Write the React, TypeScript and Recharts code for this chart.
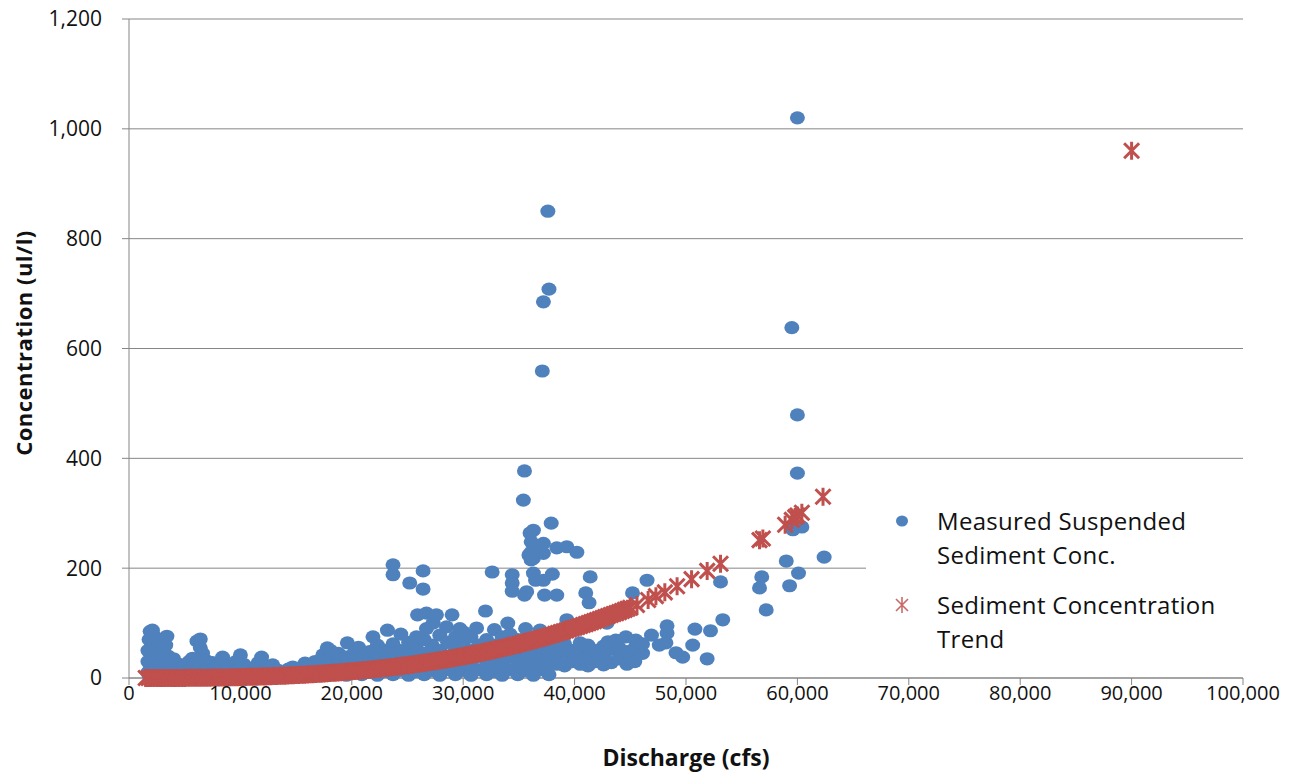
import { ScatterChart, Scatter, XAxis, YAxis, CartesianGrid, Label } from 'recharts';

const xTicks = [0, 10000, 20000, 30000, 40000, 50000, 60000, 70000, 80000, 90000, 100000];
const yTicks = [0, 200, 400, 600, 800, 1000, 1200];

// measured suspended sediment [discharge cfs, concentration ul/l]
const lowFlow: [number, number][] = [
  [1700, 10], [1700, 30], [1700, 50], [1800, 70], [1800, 5], [1900, 15], [1900, 85], [2000, 25], [2000, 40],
  [2100, 55], [2100, 87], [2200, 78], [2200, 65], [2300, 15], [2300, 35], [2300, 48], [2400, 32], [2500, 20],
  [2500, 45], [2600, 10], [2600, 70], [2700, 60], [2800, 25], [2800, 45], [2900, 8], [3000, 30], [3000, 55],
  [3100, 42], [3200, 18], [3300, 60], [3400, 76], [3500, 40], [3500, 8], [3600, 12], [3800, 28], [4000, 35],
  [4100, 12], [4200, 20], [4400, 6], [4500, 25], [4700, 10], [4800, 15], [5000, 22], [5200, 8], [5400, 30],
  [5500, 14], [5700, 36], [5900, 10], [6000, 28], [6100, 67], [6300, 18], [6400, 71], [6400, 55], [6600, 45],
  [6700, 12], [6900, 32], [7100, 8], [7200, 22], [7400, 14], [7500, 28], [7700, 8], [7800, 15], [8100, 25],
  [8200, 12], [8400, 38], [8600, 10], [8800, 22], [9000, 14], [9200, 18], [9400, 8], [9600, 30], [9800, 14],
  [10000, 42], [10200, 10], [10300, 25], [10600, 8], [10700, 18], [11000, 12], [11200, 14], [11400, 8], [11600, 28],
  [11800, 14], [11900, 38], [12200, 10], [12400, 22], [12700, 8], [12900, 24], [13200, 10], [13400, 14], [13700, 6],
  [13900, 10], [14200, 8], [14300, 16], [14600, 10], [14700, 20], [15000, 12], [15200, 12], [15500, 8], [15800, 27],
];

const midFlow: [number, number][] = [
  [16000, 10], [16000, 22], [16700, 5], [16700, 15], [16700, 30], [17400, 12], [17400, 25], [17400, 42],
  [17800, 55], [18100, 6], [18100, 20], [18100, 35], [18100, 50], [18800, 14], [18800, 28], [18800, 45],
  [19500, 5], [19500, 22], [19500, 38], [19600, 64], [20200, 12], [20200, 28], [20200, 45], [20600, 56],
  [20900, 6], [20900, 20], [20900, 38], [21600, 10], [21600, 30], [21600, 48], [21900, 75], [22300, 5],
  [22300, 22], [22300, 40], [22300, 60], [23000, 12], [23000, 32], [23000, 50], [23200, 87], [23700, 206],
  [23700, 188], [23700, 6], [23700, 22], [23700, 40], [23700, 62], [24400, 14], [24400, 30], [24400, 50],
  [24400, 80], [25100, 5], [25100, 22], [25100, 42], [25100, 65], [25200, 173], [25800, 12], [25800, 35],
  [25800, 55], [25800, 75], [25900, 115], [26400, 195], [26400, 162], [26500, 6], [26500, 25], [26500, 45],
  [26500, 70], [26700, 118], [26700, 90], [27200, 14], [27200, 38], [27200, 60], [27300, 100], [27600, 115],
  [27900, 5], [27900, 28], [27900, 50], [27900, 78], [28500, 93], [28600, 15], [28600, 40], [28600, 65],
  [29000, 115], [29300, 6], [29300, 25], [29300, 55], [29300, 75], [29700, 90],
];

const highFlow: [number, number][] = [
  [30000, 14], [30000, 35], [30000, 65], [30000, 84], [30700, 5], [30700, 25], [30700, 50], [30700, 75],
  [31200, 91], [31400, 15], [31400, 40], [31400, 60], [32000, 122], [32100, 6], [32100, 28], [32100, 55],
  [32100, 70], [32600, 193], [32800, 12], [32800, 35], [32800, 60], [32800, 88], [33500, 5], [33500, 25],
  [33500, 45], [33500, 75], [34000, 100], [34200, 15], [34200, 38], [34200, 58], [34200, 80], [34400, 188],
  [34400, 173], [34400, 158], [34900, 6], [34900, 28], [34900, 50], [34900, 70], [35400, 324], [35500, 377],
  [35500, 151], [35600, 14], [35600, 35], [35600, 55], [35600, 90], [35700, 157], [35900, 224], [36000, 264],
  [36100, 248], [36100, 229], [36100, 215], [36300, 269], [36300, 218], [36300, 191], [36300, 5], [36300, 25],
  [36300, 45], [36300, 65], [36500, 178], [36900, 87], [36900, 233], [37000, 15], [37000, 35], [37000, 55],
  [37100, 559], [37200, 685], [37200, 178], [37200, 245], [37200, 227], [37300, 151], [37600, 850], [37700, 708],
  [37700, 6], [37700, 28], [37700, 48], [37700, 65], [37900, 282], [38000, 189], [38400, 237], [38400, 151],
  [38400, 25], [38400, 40], [38400, 58], [39100, 22], [39100, 45], [39100, 62], [39300, 239], [39300, 106],
  [39300, 91], [39800, 30], [39800, 50], [40200, 229], [40500, 25], [40500, 45], [40500, 64], [41000, 155],
  [41200, 22], [41200, 38], [41200, 60], [41300, 137], [41400, 184], [41900, 30], [41900, 50], [42600, 24],
  [42600, 40], [42600, 58], [42900, 100], [43300, 28], [43300, 52], [43000, 66], [43700, 69], [44000, 35],
  [44000, 55], [44600, 75], [44700, 25], [44700, 48], [45000, 36], [45200, 155], [45400, 30], [45400, 55],
  [45500, 69], [46100, 45], [46100, 62], [46500, 178], [46900, 78],
];

const peakFlow: [number, number][] = [
  [47600, 60], [48300, 95], [48300, 82], [48200, 64], [49100, 46], [49700, 38], [50600, 60], [50800, 89],
  [51900, 35], [52200, 86], [53100, 175], [53300, 106], [56600, 164], [56800, 184], [57200, 124], [59000, 213],
  [59300, 168], [59500, 638], [59600, 270], [60000, 1020], [60000, 479], [60000, 373], [60100, 191], [60400, 275],
  [62400, 220],
];

// sediment concentration trend [discharge cfs, concentration ul/l]
const trendPoints: [number, number][] = [
  [1500, 0], [2000, 0], [2500, 0], [3000, 0], [3500, 0], [4000, 0.1], [4500, 0.1], [5000, 0.2],
  [5500, 0.3], [6000, 0.4], [6500, 0.5], [7000, 0.6], [7500, 0.7], [8000, 0.9], [8500, 1.0], [9000, 1.2],
  [9500, 1.4], [10000, 1.6], [10500, 1.9], [11000, 2.2], [11500, 2.5], [12000, 2.8], [12500, 3.1], [13000, 3.5],
  [13500, 3.9], [14000, 4.3], [14500, 4.8], [15000, 5.3], [15500, 5.8], [16000, 6.4], [16500, 7.0], [17000, 7.6],
  [17500, 8.3], [18000, 9.0], [18500, 9.7], [19000, 10.5], [19500, 11.3], [20000, 12.2], [20500, 13.1], [21000, 14.1],
  [21500, 15.1], [22000, 16.1], [22500, 17.2], [23000, 18.4], [23500, 19.6], [24000, 20.8], [24500, 22.1], [25000, 23.4],
  [25500, 24.8], [26000, 26.2], [26500, 27.7], [27000, 29.3], [27500, 30.9], [28000, 32.5], [28500, 34.2], [29000, 36.0],
  [29500, 37.8], [30000, 39.6], [30500, 41.6], [31000, 43.6], [31500, 45.7], [32000, 47.8], [32500, 50.0], [33000, 52.3],
  [33500, 54.6], [34000, 57.0], [34500, 59.5], [35000, 62.0], [35500, 64.6], [36000, 67.3], [36500, 70.1], [37000, 72.9],
  [37500, 75.8], [38000, 78.8], [38500, 81.9], [39000, 85.0], [39500, 88.2], [40000, 91.4], [40500, 94.8], [41000, 98.2],
  [41500, 101.7], [42000, 105.3], [42500, 109], [43000, 113], [43500, 116.5], [44000, 120], [44500, 124], [45000, 128],
  [45600, 133], [46600, 142], [47300, 149], [48100, 156], [49200, 167], [50500, 180], [51900, 195], [53100, 208],
  [56600, 251], [56900, 254], [58900, 279], [59500, 288], [59800, 293], [60000, 296], [60400, 301], [62300, 330],
  [90000, 960],
];

// trend markers between the ones above, where the band is solid
const trendFill: [number, number][] = [
  [1750, 0], [2250, 0], [2750, 0], [3250, 0], [3750, 0.05], [4250, 0.1], [4750, 0.15], [5250, 0.25],
  [5750, 0.35], [6250, 0.45], [6750, 0.55], [7250, 0.65], [7750, 0.8], [8250, 0.95], [8750, 1.1], [9250, 1.3],
  [9750, 1.5], [10250, 1.75], [10750, 2.05], [11250, 2.35], [11750, 2.65], [12250, 2.95], [12750, 3.3], [13250, 3.7],
  [13750, 4.1], [14250, 4.55], [14750, 5.05], [15250, 5.55], [15750, 6.1], [16250, 6.7], [16750, 7.3], [17250, 7.95],
  [17750, 8.65], [18250, 9.35], [18750, 10.1], [19250, 10.9], [19750, 11.75], [20250, 12.65], [20750, 13.6], [21250, 14.6],
  [21750, 15.6], [22250, 16.65], [22750, 17.8], [23250, 19.0], [23750, 20.2], [24250, 21.45], [24750, 22.75], [25250, 24.1],
  [25750, 25.5], [26250, 26.95], [26750, 28.5], [27250, 30.1], [27750, 31.7], [28250, 33.35], [28750, 35.1], [29250, 36.9],
  [29750, 38.7], [30250, 40.6], [30750, 42.6], [31250, 44.65], [31750, 46.75], [32250, 48.9], [32750, 51.15], [33250, 53.45],
  [33750, 55.8], [34250, 58.25], [34750, 60.75], [35250, 63.3], [35750, 65.95], [36250, 68.7], [36750, 71.5], [37250, 74.35],
  [37750, 77.3], [38250, 80.35], [38750, 83.45], [39250, 86.6], [39750, 89.8], [40250, 93.1], [40750, 96.5], [41250, 99.95],
  [41750, 103.5], [42250, 107.1], [42750, 111], [43250, 114.7], [43750, 118.2], [44250, 122], [44750, 126],
];

const measured = [...lowFlow, ...midFlow, ...highFlow, ...peakFlow].map(([q, c]) => ({ q, c }));
const trend = [...trendPoints, ...trendFill].map(([q, c]) => ({ q, c }));

const BLUE = '#4F81BD';
const RED = '#C0504D';
const GRID = '#868686';
const FONT = "'Open Sans', sans-serif";

function BlueDot(props: any) {
  const { cx, cy } = props;
  return <ellipse cx={cx} cy={cy} rx={7.5} ry={6.6} fill={BLUE} />;
}

function RedStar(props: any) {
  const { cx, cy } = props;
  const d = `M${cx - 7.5},${cy - 7.5}L${cx + 7.5},${cy + 7.5}M${cx + 7.5},${cy - 7.5}L${cx - 7.5},${cy + 7.5}M${cx},${cy - 9}L${cx},${cy + 9}`;
  return <path d={d} stroke={RED} strokeWidth={3} fill="none" />;
}

export default function App() {
  return (
    <div style={{ position: 'relative', width: 1304, height: 773, margin: '-8px 0 0 -8px' }}>
      <ScatterChart width={1304} height={773} margin={{ top: 19, right: 61, left: 18, bottom: 35 }}>
        <CartesianGrid vertical={false} stroke={GRID} strokeWidth={1} />
        <XAxis
          type="number"
          dataKey="q"
          domain={[0, 100000]}
          ticks={xTicks}
          interval={0}
          height={60}
          stroke={GRID}
          tickSize={7}
          tickMargin={1}
          tickFormatter={(v: number) => v.toLocaleString('en-US')}
          tick={{ fill: '#111', fontSize: 20, fontFamily: FONT }}
        >
          <Label
            content={() => (
              <text x={686} y={766} textAnchor="middle" fontFamily={FONT} fontWeight="bold" fontSize={23} fill="#111">
                Discharge (cfs)
              </text>
            )}
          />
        </XAxis>
        <YAxis
          type="number"
          dataKey="c"
          domain={[0, 1200]}
          ticks={yTicks}
          interval={0}
          width={111}
          stroke={GRID}
          tickSize={7}
          tickMargin={20}
          tickFormatter={(v: number) => v.toLocaleString('en-US')}
          tick={{ fill: '#111', fontSize: 21, fontFamily: FONT }}
        >
          <Label
            content={() => (
              <text
                x={23}
                y={343}
                transform="rotate(-90, 23, 343)"
                textAnchor="middle"
                dominantBaseline="central"
                fontFamily={FONT}
                fontWeight="bold"
                fontSize={22}
                letterSpacing={0.5}
                fill="#111"
              >
                Concentration (ul/l)
              </text>
            )}
          />
        </YAxis>
        <Scatter name="Measured Suspended Sediment Conc." data={measured} shape={<BlueDot />} isAnimationActive={false} />
        <Scatter name="Sediment Concentration Trend" data={trend} shape={<RedStar />} isAnimationActive={false} />
      </ScatterChart>

      <div
        style={{
          position: 'absolute',
          left: 866,
          top: 490,
          width: 377,
          height: 170,
          background: '#fff',
          fontFamily: FONT,
          fontSize: 24,
          color: '#111',
          lineHeight: '34px',
          letterSpacing: 0.3,
        }}
      >
        <svg width={30} height={170} style={{ position: 'absolute', left: 24, top: 0 }}>
          <ellipse cx={12} cy={31} rx={6} ry={5.5} fill={BLUE} />
          <path d="M6,109L18,121M18,109L6,121M12,107L12,123" stroke={RED} strokeWidth={1.6} fill="none" opacity={0.85} />
        </svg>
        <div style={{ position: 'absolute', left: 71, top: 14, whiteSpace: 'nowrap' }}>
          Measured Suspended
          <br />
          Sediment Conc.
        </div>
        <div style={{ position: 'absolute', left: 71, top: 98, whiteSpace: 'nowrap' }}>
          Sediment Concentration
          <br />
          Trend
        </div>
      </div>
    </div>
  );
}
